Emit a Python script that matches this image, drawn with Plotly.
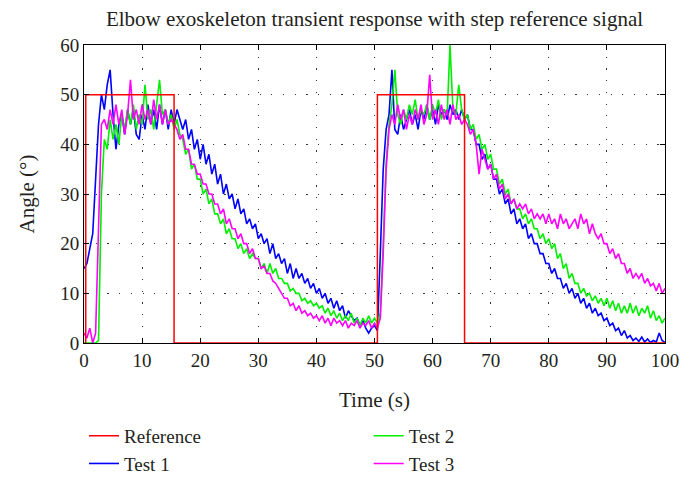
import plotly.graph_objects as go

# Time base (s), 0.5 s sampling
time_s = [i * 0.5 for i in range(201)]

# Step reference signal (corner points)
ref_time = [0.3, 0.3, 15.5, 15.5, 50.5, 50.5, 65.5, 65.5, 100]
ref_angle = [0, 50, 50, 0, 0, 50, 50, 0, 0]

test1 = (
    [15, 16, 19, 22, 33, 44, 50, 47, 52, 55, 46, 39, 44, 46, 42, 47, 44, 47, 42, 41]
    + [46, 43, 48, 44, 47, 43, 48, 44, 47, 43, 47, 44, 47, 45, 43, 45, 41, 43, 39, 41]
    + [37, 40, 36, 38, 34, 36, 32, 34, 30, 32, 29, 30, 27, 29, 26, 27, 24, 25, 23, 24]
    + [21, 22, 20, 21, 18, 20, 17, 18, 16, 17, 14, 16, 13, 15, 13, 14, 12, 13, 11, 12]
    + [10, 11, 9, 10, 8, 9, 7, 8.5, 6.5, 7.5, 5, 6.5, 5.5, 4.5, 5, 3.5, 4.5, 3, 2, 3]
    + [3.5, 2.5, 18, 35, 43, 46, 55, 43, 42, 46, 43, 45, 47, 44, 46, 43, 47, 45, 48, 45]
    + [47, 44, 48, 46, 47, 45, 48, 46, 47, 45, 47, 45, 46, 43, 43, 40, 40, 37, 38, 35]
    + [36, 33, 33, 30, 31, 28, 29, 26, 27, 24, 25, 23, 24, 21, 22, 20, 20, 18, 18, 16]
    + [16, 14, 15, 13, 13, 11, 12, 10, 11, 9, 10, 8, 9, 7, 8, 6, 7, 5.5, 6, 4.5]
    + [5, 3.5, 4, 2.5, 3, 1.5, 2.5, 1, 1.5, 0.5, 1, 0.3, 1.2, 0.2, 0.8, 0.1, 0.5, 0.2, 2, 0.5, 0.1]
)

test2 = (
    [0, 0, 0, 0, 0, 0.5, 30, 41, 39, 45, 41, 44, 40, 46, 43, 47, 44, 48, 43, 46]
    + [44, 52, 45, 47, 43, 48, 53, 46, 47, 44, 46, 43, 45, 42, 41, 38, 39, 35, 36, 33]
    + [33, 30, 31, 28, 29, 26, 26, 24, 25, 22, 23, 21, 21, 19, 20, 18, 19, 17, 18, 17]
    + [17, 15, 16, 14, 16, 14, 15, 13, 13, 12, 12, 10.5, 11, 10, 10, 8.5, 9, 8, 8.5, 7.5]
    + [8, 7, 7.5, 6, 7, 5.5, 6.5, 5, 6, 4.5, 5.5, 4.5, 6, 4, 5, 3.5, 5, 4, 5.5, 4]
    + [5, 4, 6, 20, 36, 44, 48, 55, 46, 44, 47, 45, 48, 46, 49, 45, 47, 46, 48, 45]
    + [48, 46, 49, 45, 47, 46, 60, 47, 46, 52, 47, 45, 46, 43, 44, 41, 42, 39, 40, 37]
    + [38, 35, 35, 32, 33, 30, 31, 28, 29, 27, 27, 25, 26, 24, 25, 23, 23, 21, 22, 20]
    + [21, 19, 20, 17, 18, 15, 16, 13, 14, 12, 12, 10, 11, 9.5, 10, 8.5, 9.5, 8, 9, 7.5]
    + [9, 7, 8.5, 6.5, 8, 6, 7.5, 6, 8, 6, 7.5, 5.5, 7, 6, 7.5, 5, 6.5, 4.5, 5.5, 4, 5]
)

test3 = (
    [2, 1, 3, 0, 2, 25, 44, 45, 43, 47, 44, 48, 44, 47, 42, 46, 53, 45, 47, 44]
    + [48, 45, 47, 44, 49, 45, 48, 44, 47, 44, 45, 44, 43, 41, 42, 39, 39, 36, 36, 34]
    + [34, 32, 32, 30, 30, 28, 28, 26, 27, 24, 25, 23, 23, 21, 22, 20, 20, 18, 19, 17]
    + [17, 15, 15.5, 14, 14, 12.5, 12, 11, 10, 9, 9, 7.5, 8, 6.5, 7.5, 6, 6.5, 5.5, 6, 5]
    + [5.5, 4.5, 5.5, 4, 5, 3.5, 5, 4, 4.5, 3.5, 4.5, 3, 4, 3.5, 4.5, 3, 4, 3.5, 4.5, 3]
    + [4, 3, 5, 18, 35, 43, 46, 44, 48, 45, 47, 43, 46, 44, 47, 45, 48, 44, 46, 54]
    + [45, 47, 44, 48, 45, 47, 44, 48, 45, 46, 44, 45, 44, 42, 43, 40, 34, 39, 37, 35]
    + [36, 33, 34, 31, 32, 29, 30, 28, 29, 27, 28, 27, 28, 26, 27, 25, 26, 25, 26, 24]
    + [26, 24, 25, 23, 26, 24, 25, 23, 24, 25, 23, 26, 24, 25, 22, 24, 22, 21, 22, 20]
    + [20, 18, 19, 17, 18, 16, 16, 14, 15, 13, 14, 13, 14, 12, 13, 11.5, 12, 10.5, 12, 10, 11]
)

x_ticks = [0, 10, 20, 30, 40, 50, 60, 70, 80, 90, 100]
y_ticks = [0, 10, 20, 30, 40, 50, 60]

FONT = "Liberation Serif"
TXT = "#231f20"

fig = go.Figure()
fig.add_trace(go.Scatter(x=time_s, y=test1, mode="lines", name="Test 1",
                         line=dict(color="#0000ff", width=1.6),
                         legend="legend", legendrank=2))
fig.add_trace(go.Scatter(x=time_s, y=test2, mode="lines", name="Test 2",
                         line=dict(color="#00ee00", width=1.6),
                         legend="legend2", legendrank=1))
fig.add_trace(go.Scatter(x=time_s, y=test3, mode="lines", name="Test 3",
                         line=dict(color="#ff00ff", width=1.6),
                         legend="legend2", legendrank=2))
fig.add_trace(go.Scatter(x=ref_time, y=ref_angle, mode="lines", name="Reference",
                         line=dict(color="#ff0000", width=1.5),
                         legend="legend", legendrank=1))

axis_common = dict(
    showline=True, linecolor="black", linewidth=1, mirror="ticks",
    ticks="inside", ticklen=5, tickcolor="black", automargin=False,
    showgrid=True, gridcolor="#333333", gridwidth=1.2, griddash="1.2px,10.5px",
    zeroline=False, tickfont=dict(family=FONT, size=19, color=TXT),
)

fig.update_layout(
    width=682, height=485,
    margin=dict(l=76, r=25, t=37, b=150, autoexpand=False),
    paper_bgcolor="white", plot_bgcolor="white",
    font=dict(family=FONT, size=19, color=TXT),
    title=dict(text="Elbow exoskeleton transient response with step reference signal",
               x=0.5, xanchor="center", xref="paper", y=0.978, yanchor="middle",
               font=dict(family=FONT, size=21, color=TXT)),
    xaxis=dict(range=[0, 100], tickvals=x_ticks,
               title=dict(text="Time (s)", font=dict(family=FONT, size=21, color=TXT), standoff=22),
               **axis_common),
    yaxis=dict(range=[0, 60], tickvals=y_ticks,
               title=dict(text="Angle (°)", font=dict(family=FONT, size=21, color=TXT), standoff=19),
               **axis_common),
    legend=dict(x=0.0, y=-0.248, xanchor="left", yanchor="top",
                bgcolor="rgba(0,0,0,0)", font=dict(family=FONT, size=19, color=TXT),
                tracegroupgap=0, itemwidth=30),
    legend2=dict(x=0.49, y=-0.248, xanchor="left", yanchor="top",
                 bgcolor="rgba(0,0,0,0)", font=dict(family=FONT, size=19, color=TXT),
                 tracegroupgap=0, itemwidth=30),
    showlegend=True,
)

fig.write_html("out.html")
